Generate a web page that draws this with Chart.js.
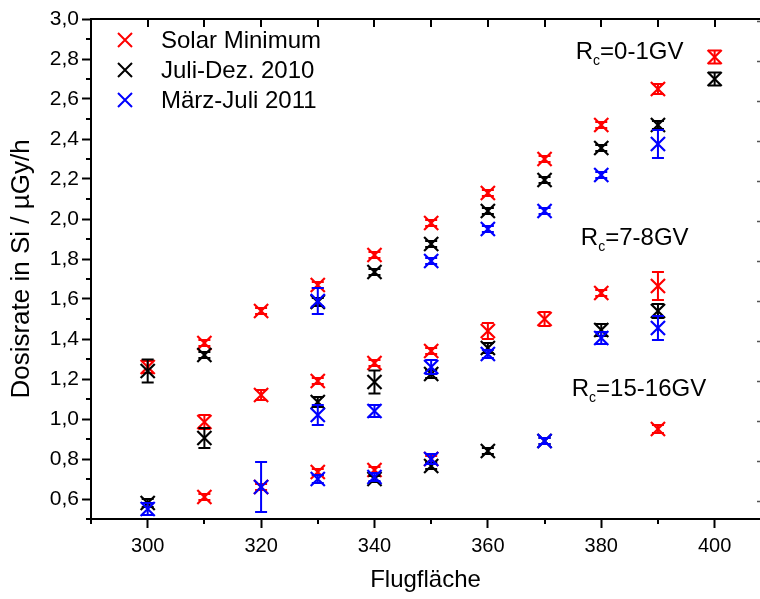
<!DOCTYPE html>
<html>
<head>
<meta charset="utf-8">
<title>Dosisrate</title>
<script src="https://cdn.jsdelivr.net/npm/chart.js@4.4.0/dist/chart.umd.min.js"></script>
<style>
  html, body { margin: 0; padding: 0; overflow: hidden; background: #fff; }
  #wrap { width: 760px; height: 599px; }
</style>
</head>
<body>
<div id="wrap"><canvas id="doseChart" width="760" height="599"></canvas></div>
<script>
// Flight levels and measured dose rates (µGy/h) with their errors
const solarX   = [300, 310, 320, 330, 340, 350, 360, 370, 380, 390, 400,
                  310, 320, 330, 340, 350, 360, 370, 380, 390,
                  310, 320, 330, 340, 350, 390];
const solarY   = [1.26, 1.38, 1.54, 1.67, 1.82, 1.98, 2.13, 2.30, 2.47, 2.65, 2.81,
                  0.985, 1.12, 1.19, 1.28, 1.34, 1.44, 1.50, 1.63, 1.665,
                  0.61, 0.66, 0.735, 0.745, 0.80, 0.95];
const solarErr = [0.03, 0.015, 0.015, 0.015, 0.015, 0.015, 0.015, 0.015, 0.015, 0.025, 0.033,
                  0.035, 0.025, 0.015, 0.015, 0.015, 0.04, 0.035, 0.015, 0.07,
                  0.015, 0.015, 0.015, 0.015, 0.015, 0.02];

const jdX   = [300, 310, 330, 340, 350, 360, 370, 380, 390, 400,
               310, 330, 340, 350, 360, 380, 390,
               300, 340, 350, 360, 370];
const jdY   = [1.24, 1.32, 1.585, 1.735, 1.875, 2.04, 2.195, 2.355, 2.47, 2.70,
               0.905, 1.085, 1.185, 1.225, 1.355, 1.445, 1.54,
               0.58, 0.70, 0.765, 0.84, 0.89];
const jdErr = [0.058, 0.015, 0.02, 0.015, 0.015, 0.015, 0.015, 0.015, 0.02, 0.033,
               0.05, 0.025, 0.058, 0.02, 0.025, 0.03, 0.035,
               0.02, 0.015, 0.015, 0.015, 0.015];

const mjX   = [330, 350, 360, 370, 380, 390,
               330, 340, 350, 360, 380, 390,
               300, 320, 330, 340, 350, 370];
const mjY   = [1.59, 1.79, 1.95, 2.04, 2.22, 2.375,
               1.02, 1.04, 1.26, 1.325, 1.405, 1.455,
               0.55, 0.66, 0.70, 0.71, 0.80, 0.89];
const mjErr = [0.065, 0.015, 0.015, 0.015, 0.015, 0.07,
               0.05, 0.03, 0.035, 0.02, 0.03, 0.06,
               0.03, 0.125, 0.02, 0.02, 0.025, 0.015];

// axis ticks
const xTicks = [300, 320, 340, 360, 380, 400];
const xMinorTicks = [290, 310, 330, 350, 370, 390];
const yTicks = [0.6, 0.8, 1.0, 1.2, 1.4, 1.6, 1.8, 2.0, 2.2, 2.4, 2.6, 2.8, 3.0];
const yMinorTicks = [0.5, 0.7, 0.9, 1.1, 1.3, 1.5, 1.7, 1.9, 2.1, 2.3, 2.5, 2.7, 2.9];

// cut-off rigidity labels, placed in data units
const rcLabels = ['0-1GV', '7-8GV', '15-16GV'];
const rcLabelX = [375.5, 376.4, 374.8];
const rcLabelY = [2.84, 1.91, 1.155];

const FONT = '"Liberation Sans", Arial, sans-serif';

function toPoints(xs, ys) {
    return xs.map((x, i) => ({ x: x, y: ys[i] }));
}

function drawX(ctx, x, y, r) {
    ctx.beginPath();
    ctx.moveTo(x - r, y - r); ctx.lineTo(x + r, y + r);
    ctx.moveTo(x - r, y + r); ctx.lineTo(x + r, y - r);
    ctx.stroke();
}

// vertical error bars with caps, drawn right after each dataset
const errorBars = {
    id: 'errorBars',
    afterDatasetDraw(chart, args) {
        const ds = chart.data.datasets[args.index];
        if (!ds.errors) return;
        const ctx = chart.ctx;
        const yScale = chart.scales.y;
        ctx.save();
        ctx.strokeStyle = ds.borderColor;
        ctx.lineWidth = 2;
        args.meta.data.forEach((pt, i) => {
            const v = ds.data[i].y;
            const e = ds.errors[i];
            const top = yScale.getPixelForValue(v + e);
            const bot = yScale.getPixelForValue(v - e);
            ctx.beginPath();
            ctx.moveTo(pt.x, top); ctx.lineTo(pt.x, bot);
            ctx.moveTo(pt.x - 6, top); ctx.lineTo(pt.x + 6, top);
            ctx.moveTo(pt.x - 6, bot); ctx.lineTo(pt.x + 6, bot);
            ctx.stroke();
        });
        ctx.restore();
    }
};

// top frame, minor ticks, inner ticks on top and right
const frameTicks = {
    id: 'frameTicks',
    afterDraw(chart) {
        const { ctx, chartArea: a } = chart;
        const xs = chart.scales.x, ys = chart.scales.y;
        ctx.save();
        ctx.strokeStyle = '#000';
        ctx.lineWidth = 2;
        ctx.beginPath();
        ctx.moveTo(a.left - 1, a.top);
        ctx.lineTo(a.right, a.top);
        ctx.stroke();

        ctx.beginPath();
        xMinorTicks.forEach(v => {
            const px = Math.round(xs.getPixelForValue(v));
            ctx.moveTo(px, a.bottom); ctx.lineTo(px, a.bottom + 5);
        });
        yMinorTicks.forEach(v => {
            const py = Math.round(ys.getPixelForValue(v));
            ctx.moveTo(a.left, py); ctx.lineTo(a.left - 5, py);
        });
        xTicks.concat(xMinorTicks).forEach(v => {
            if (v <= xs.min || v >= xs.max) return;
            const px = Math.round(xs.getPixelForValue(v));
            ctx.moveTo(px, a.top); ctx.lineTo(px, a.top + 8);
        });
        ctx.stroke();

        // right frame sits at the edge, only the tick tips show
        ctx.lineWidth = 1.5;
        ctx.strokeStyle = '#555';
        ctx.beginPath();
        yTicks.forEach(v => {
            const py = Math.round(ys.getPixelForValue(v)) + 2.5;
            ctx.moveTo(a.right, py); ctx.lineTo(a.right - 3, py);
        });
        ctx.stroke();
        ctx.restore();
    }
};

// legend in the upper left corner and the R_c labels
const annotations = {
    id: 'annotations',
    afterDraw(chart) {
        const { ctx, chartArea: a } = chart;
        const xs = chart.scales.x, ys = chart.scales.y;
        ctx.save();
        ctx.lineWidth = 2;
        ctx.textBaseline = 'middle';
        ctx.textAlign = 'left';
        ctx.font = '24px ' + FONT;
        chart.data.datasets.forEach((ds, i) => {
            const cy = a.top + 21 + i * 30;
            ctx.strokeStyle = ds.borderColor;
            drawX(ctx, a.left + 34, cy, 7);
            ctx.fillStyle = '#000';
            ctx.fillText(ds.label, a.left + 70, cy + 1);
        });

        ctx.textBaseline = 'alphabetic';
        ctx.fillStyle = '#000';
        rcLabels.forEach((txt, i) => {
            const px = xs.getPixelForValue(rcLabelX[i]);
            const base = ys.getPixelForValue(rcLabelY[i]) + 8;
            ctx.font = '24px ' + FONT;
            ctx.fillText('R', px, base);
            let w = ctx.measureText('R').width;
            ctx.font = '14px ' + FONT;
            ctx.fillText('c', px + w, base + 6);
            w += ctx.measureText('c').width;
            ctx.font = '24px ' + FONT;
            ctx.fillText('=' + txt, px + w, base);
        });
        ctx.restore();
    }
};

const markerStyle = {
    showLine: false,
    pointStyle: 'crossRot',
    pointRadius: 10,
    pointHoverRadius: 10,
    pointBorderWidth: 2.2
};

new Chart(document.getElementById('doseChart'), {
    type: 'scatter',
    data: {
        datasets: [
            Object.assign({
                label: 'Solar Minimum',
                data: toPoints(solarX, solarY),
                errors: solarErr,
                borderColor: '#ff0000',
                backgroundColor: '#ff0000',
                order: 2
            }, markerStyle),
            Object.assign({
                label: 'Juli-Dez. 2010',
                data: toPoints(jdX, jdY),
                errors: jdErr,
                borderColor: '#000000',
                backgroundColor: '#000000',
                order: 1
            }, markerStyle),
            Object.assign({
                label: 'März-Juli 2011',
                data: toPoints(mjX, mjY),
                errors: mjErr,
                borderColor: '#0000ff',
                backgroundColor: '#0000ff',
                order: 0
            }, markerStyle)
        ]
    },
    options: {
        responsive: false,
        devicePixelRatio: 1,
        animation: false,
        events: [],
        layout: { autoPadding: false, padding: { top: 19, right: 0, left: 0, bottom: 0 } },
        plugins: {
            legend: { display: false },
            tooltip: { enabled: false }
        },
        scales: {
            x: {
                type: 'linear',
                min: 290,
                max: 408,
                afterBuildTicks: scale => { scale.ticks = xTicks.map(v => ({ value: v })); },
                afterFit: scale => {
                    scale.height = 80;
                    scale.paddingLeft = 0;
                    scale.paddingRight = 0;
                },
                grid: { drawOnChartArea: false, drawTicks: true, tickLength: 9, tickWidth: 2, tickColor: '#000' },
                border: { display: true, color: '#000', width: 2 },
                ticks: {
                    color: '#000',
                    padding: 6,
                    maxRotation: 0,
                    font: { family: FONT, size: 20 }
                },
                title: {
                    display: true,
                    text: 'Flugfläche',
                    color: '#000',
                    font: { family: FONT, size: 24 },
                    padding: { top: 0, bottom: 4 }
                }
            },
            y: {
                type: 'linear',
                min: 0.5,
                max: 3.0,
                afterBuildTicks: scale => { scale.ticks = yTicks.map(v => ({ value: v })); },
                afterFit: scale => { scale.width = 91; },
                grid: { drawOnChartArea: false, drawTicks: true, tickLength: 9, tickWidth: 2, tickColor: '#000' },
                border: { display: true, color: '#000', width: 2 },
                ticks: {
                    color: '#000',
                    padding: 3,
                    font: { family: FONT, size: 21 },
                    callback: v => v.toFixed(1).replace('.', ',')
                },
                title: {
                    display: true,
                    text: 'Dosisrate in Si / µGy/h',
                    color: '#000',
                    font: { family: FONT, size: 26 },
                    padding: { top: 6, bottom: 0 }
                }
            }
        }
    },
    plugins: [errorBars, frameTicks, annotations]
});
</script>
</body>
</html>
